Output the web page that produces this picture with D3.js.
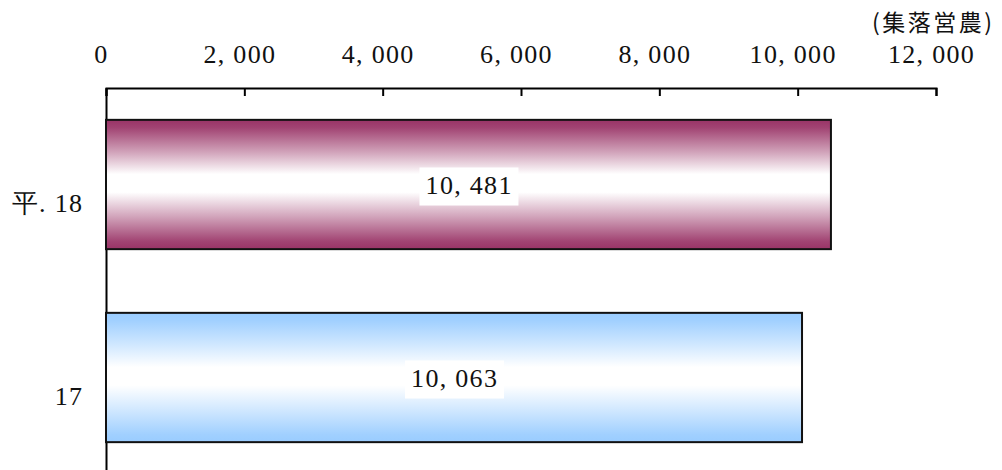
<!DOCTYPE html>
<html>
<head>
<meta charset="utf-8">
<script src="https://cdn.jsdelivr.net/npm/d3@7"></script>
<style>
	body { margin: 0; background: #fff; }
	text { font-family: "Liberation Serif", "DejaVu Serif", serif; fill: #111; }
	.cjk { font-family: "Noto Sans CJK JP", sans-serif; }
</style>
</head>
<body>
<div id="chart"></div>
<script>
	'use strict';

	var categories = ['平. 18', '17'];
	var values = [10481, 10063];
	var tickValues = [0, 2000, 4000, 6000, 8000, 10000, 12000];
	var unitLabel = '(集落営農)';
	var barColors = ['#993366', '#99ccff'];

	var width = 1002, height = 470;
	var margin = { top: 88, left: 106, right: 66 };
	var plotBottom = 474;
	var fontSize = 26, spacing = 1.3;

	function fmt (v)	{
		return d3.format(',')(v).replace(/,/g, ', ');
	};

	var svg = d3.select('#chart').append('svg')
		.attr('width', width)
		.attr('height', height);

	var defs = svg.append('defs');
	barColors.forEach(function (c, i)	{
		var mid = d3.interpolateRgb(c, '#ffffff');
		var g = defs.append('linearGradient')
			.attr('id', 'grad' + i)
			.attr('x1', 0).attr('y1', 0).attr('x2', 0).attr('y2', 1);
		[[0, 0], [0.06, 0.08], [0.25, 0.55], [0.42, 1], [0.56, 1],
		 [0.75, 0.55], [0.94, 0.08], [1, 0]].forEach(function (s)	{
			g.append('stop').attr('offset', s[0]).attr('stop-color', mid(s[1]));
		});
	});

	var x = d3.scaleLinear().domain([0, 12000])
		.range([margin.left, width - margin.right]);
	var y = d3.scaleBand().domain(categories)
		.range([margin.top, plotBottom]).paddingInner(0.33).paddingOuter(0.165);

	// top axis
	var xaxis = d3.axisTop(x).tickValues(tickValues).tickSize(-8)
		.tickSizeOuter(-8).tickPadding(25).tickFormat(fmt);

	var gx = svg.append('g')
		.attr('transform', 'translate(0,' + margin.top + ')')
		.call(xaxis);
	gx.select('.domain').attr('stroke', '#000').attr('stroke-width', 2);
	gx.selectAll('.tick line').attr('stroke', '#000').attr('stroke-width', 2);
	gx.selectAll('.tick text')
		.attr('font-size', fontSize)
		.attr('letter-spacing', spacing)
		.attr('dx', -5)
		.attr('font-family', '"Liberation Serif", serif')
		.attr('fill', '#111');

	// left axis
	var yaxis = d3.axisLeft(y).tickSize(0).tickPadding(24);
	var gy = svg.append('g')
		.attr('transform', 'translate(' + margin.left + ',0)')
		.call(yaxis);
	gy.select('.domain').attr('stroke', '#000').attr('stroke-width', 2);
	gy.selectAll('.tick text')
		.attr('font-size', fontSize)
		.attr('letter-spacing', spacing)
		.attr('dx', spacing)
		.attr('font-family', '"Liberation Serif", "Noto Sans CJK JP", serif')
		.attr('fill', '#111')
		.attr('dy', '1.06em');

	// bars
	svg.selectAll('rect.bar')
		.data(values)
		.enter().append('rect')
		.attr('class', 'bar')
		.attr('x', x(0))
		.attr('y', function (d, i) { return y(categories[i]); })
		.attr('width', function (d) { return x(d) - x(0); })
		.attr('height', y.bandwidth())
		.attr('fill', function (d, i) { return 'url(#grad' + i + ')'; })
		.attr('stroke', '#111')
		.attr('stroke-width', 2);

	// value labels with white boxes
	var labels = svg.selectAll('g.vlabel')
		.data(values)
		.enter().append('g')
		.attr('class', 'vlabel')
		.attr('transform', function (d, i)	{
			return 'translate(' + ((x(0) + x(d)) / 2) + ',' +
				(y(categories[i]) + y.bandwidth() / 2) + ')';
		});
	labels.append('rect')
		.attr('x', -49).attr('y', -17)
		.attr('width', 99).attr('height', 38)
		.attr('fill', '#fff');
	labels.append('text')
		.attr('text-anchor', 'middle')
		.attr('dx', spacing / 2)
		.attr('dy', '0.35em')
		.attr('font-size', fontSize)
		.attr('letter-spacing', spacing)
		.text(function (d) { return fmt(d); });

	// unit label
	svg.append('text')
		.attr('class', 'cjk')
		.attr('x', 872)
		.attr('y', 31)
		.attr('font-size', 23)
		.attr('letter-spacing', 2.5)
		.text(unitLabel);
</script>
</body>
</html>
